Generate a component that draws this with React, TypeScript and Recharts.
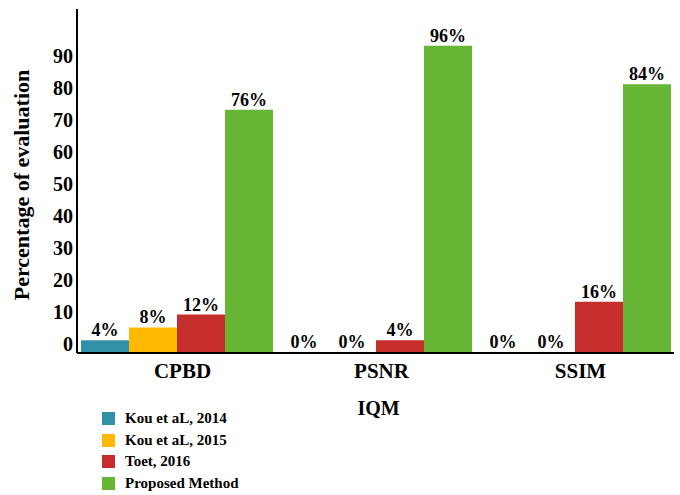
import React from 'react';
import { BarChart, Bar, XAxis, YAxis, LabelList } from 'recharts';

const categories = ['CPBD', 'PSNR', 'SSIM'];
const kou2014 = [4, 0, 0];
const kou2015 = [8, 0, 0];
const toet2016 = [12, 4, 16];
const proposed = [76, 96, 84];
const seriesNames = ['Kou et aL, 2014', 'Kou et aL, 2015', 'Toet, 2016', 'Proposed Method'];
const yTicks = [0, 10, 20, 30, 40, 50, 60, 70, 80, 90];

const COLORS = ['#3191a8', '#ffb900', '#c62d2d', '#66b535'];
const FONT = '"Liberation Serif", "Times New Roman", serif';

const chartData = categories.map((name, i) => ({
  name,
  s0: kou2014[i],
  s1: kou2015[i],
  s2: toet2016[i],
  s3: proposed[i],
}));

const YTick = (props: any) => {
  const { x, y, payload } = props;
  return (
    <text x={x} y={y - 9} textAnchor="end" dominantBaseline="central"
      style={{ fontFamily: FONT, fontWeight: 700, fontSize: 20, fill: '#000' }}>
      {payload.value}
    </text>
  );
};

const XTick = (props: any) => {
  const { x, y, payload } = props;
  return (
    <text x={x + 6} y={y + 23} textAnchor="middle"
      style={{ fontFamily: FONT, fontWeight: 700, fontSize: 21, fill: '#000' }}>
      {payload.value}
    </text>
  );
};

export default function App() {
  const keys = ['s0', 's1', 's2', 's3'];
  return (
    <div style={{ position: 'absolute', left: 0, top: 0, width: 680, height: 495, background: '#fff' }}>
      <BarChart
        width={680}
        height={495}
        data={chartData}
        margin={{ top: 9, right: 6, left: 17, bottom: 112 }}
        barCategoryGap={4}
        barGap={0}
      >
        <XAxis
          dataKey="name"
          height={30}
          tickLine={false}
          tickSize={0}
          axisLine={{ stroke: '#000', strokeWidth: 2 }}
          tick={<XTick />}
          label={(p: any) => {
            const vb = p.viewBox;
            return (
              <text x={vb.x + vb.width / 2 + 3} y={vb.y + 62} textAnchor="middle"
                style={{ fontFamily: FONT, fontWeight: 700, fontSize: 20, fill: '#000' }}>
                IQM
              </text>
            );
          }}
        />
        <YAxis
          width={60}
          domain={[0, 107.5]}
          ticks={yTicks}
          interval={0}
          tickLine={false}
          tickSize={0}
          tickMargin={4}
          axisLine={{ stroke: '#000', strokeWidth: 2 }}
          tick={<YTick />}
          label={(p: any) => {
            const vb = p.viewBox;
            const cy = vb.y + vb.height / 2 + 4;
            return (
              <text x={29} y={cy} textAnchor="middle" transform={`rotate(-90, 29, ${cy})`}
                style={{ fontFamily: FONT, fontWeight: 700, fontSize: 22, fill: '#000' }}>
                Percentage of evaluation
              </text>
            );
          }}
        />
        {keys.map((k, i) => (
          <Bar key={k} dataKey={k} name={seriesNames[i]} fill={COLORS[i]} minPointSize={1} isAnimationActive={false}>
            <LabelList
              dataKey={k}
              position="top"
              offset={4}
              formatter={(v: any) => `${v}%`}
              style={{ fontFamily: FONT, fontWeight: 700, fontSize: 18, fill: '#000' }}
            />
          </Bar>
        ))}
      </BarChart>
      <div style={{ position: 'absolute', left: 102, top: 408, fontFamily: FONT, fontWeight: 700, fontSize: 15, color: '#000' }}>
        {seriesNames.map((n, i) => (
          <div key={n} style={{ display: 'flex', alignItems: 'center', height: 21.5 }}>
            <span style={{ display: 'inline-block', width: 13, height: 13, background: COLORS[i], marginRight: 10 }} />
            <span>{n}</span>
          </div>
        ))}
      </div>
    </div>
  );
}
